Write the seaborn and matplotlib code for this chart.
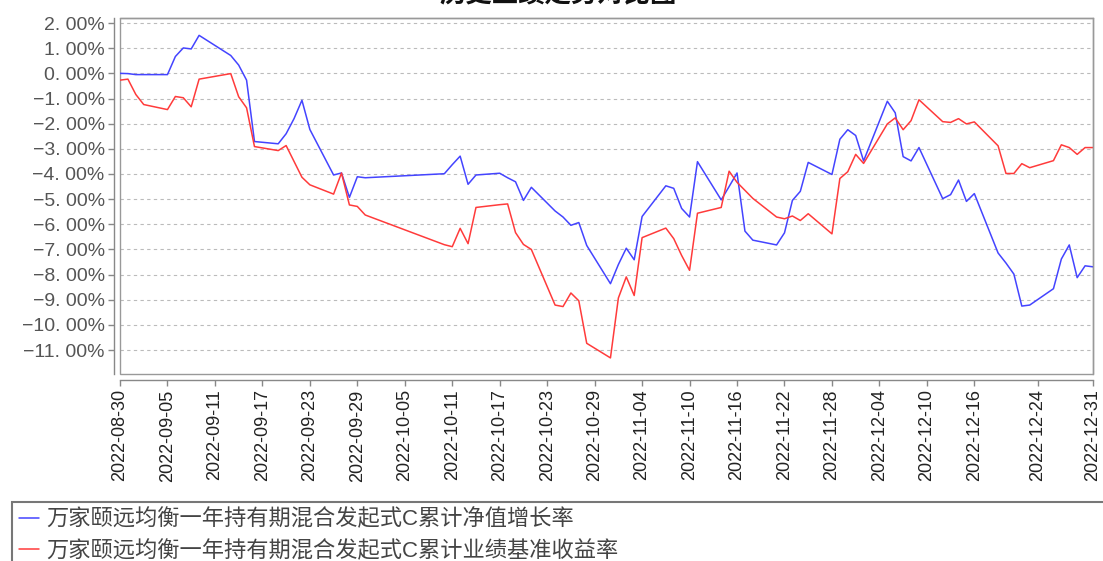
import seaborn as sns
import matplotlib.pyplot as plt
import matplotlib.dates as mdates
from matplotlib.ticker import FixedLocator, FuncFormatter
import pandas as pd

# trading days of the period (plus the period end 12-31)
dates = [
    "2022-08-30", "2022-08-31", "2022-09-01", "2022-09-02",
    "2022-09-05", "2022-09-06", "2022-09-07", "2022-09-08", "2022-09-09",
    "2022-09-13", "2022-09-14", "2022-09-15", "2022-09-16",
    "2022-09-19", "2022-09-20", "2022-09-21", "2022-09-22", "2022-09-23",
    "2022-09-26", "2022-09-27", "2022-09-28", "2022-09-29", "2022-09-30",
    "2022-10-10", "2022-10-11", "2022-10-12", "2022-10-13", "2022-10-14",
    "2022-10-17", "2022-10-18", "2022-10-19", "2022-10-20", "2022-10-21",
    "2022-10-24", "2022-10-25", "2022-10-26", "2022-10-27", "2022-10-28",
    "2022-10-31", "2022-11-01", "2022-11-02", "2022-11-03", "2022-11-04",
    "2022-11-07", "2022-11-08", "2022-11-09", "2022-11-10", "2022-11-11",
    "2022-11-14", "2022-11-15", "2022-11-16", "2022-11-17", "2022-11-18",
    "2022-11-21", "2022-11-22", "2022-11-23", "2022-11-24", "2022-11-25",
    "2022-11-28", "2022-11-29", "2022-11-30", "2022-12-01", "2022-12-02",
    "2022-12-05", "2022-12-06", "2022-12-07", "2022-12-08", "2022-12-09",
    "2022-12-12", "2022-12-13", "2022-12-14", "2022-12-15", "2022-12-16",
    "2022-12-19", "2022-12-20", "2022-12-21", "2022-12-22", "2022-12-23",
    "2022-12-26", "2022-12-27", "2022-12-28", "2022-12-29", "2022-12-30",
    "2022-12-31",
]

# 累计净值增长率 (%)
nav_growth = [
    0.00, -0.01, -0.05, -0.05,
    -0.05, 0.67, 1.01, 0.97, 1.51,
    0.71, 0.33, -0.27, -2.71,
    -2.80, -2.40, -1.80, -1.07, -2.23,
    -4.04, -3.96, -4.93, -4.11, -4.15,
    -3.99, -3.63, -3.29, -4.41, -4.04,
    -3.97, -4.15, -4.31, -5.05, -4.53,
    -5.47, -5.71, -6.04, -5.93, -6.84,
    -8.36, -7.60, -6.95, -7.41, -5.69,
    -4.47, -4.57, -5.37, -5.71, -3.51,
    -5.03, -4.50, -3.96, -6.27, -6.63,
    -6.82, -6.34, -5.05, -4.69, -3.54,
    -4.02, -2.62, -2.24, -2.47, -3.48,
    -1.11, -1.57, -3.31, -3.48, -2.95,
    -4.98, -4.82, -4.24, -5.09, -4.78,
    -7.14, -7.54, -7.98, -9.25, -9.21,
    -8.56, -7.38, -6.82, -8.12, -7.65,
    -7.69,
]

# 业绩基准收益率 (%)
bench_return = [
    -0.27, -0.23, -0.84, -1.24,
    -1.44, -0.92, -0.97, -1.33, -0.23,
    -0.01, -0.93, -1.37, -2.91,
    -3.07, -2.87, -3.50, -4.13, -4.43,
    -4.80, -3.96, -5.23, -5.29, -5.63,
    -6.81, -6.89, -6.16, -6.77, -5.33,
    -5.22, -5.19, -6.33, -6.80, -7.00,
    -9.21, -9.27, -8.73, -9.04, -10.73,
    -11.31, -8.93, -8.09, -8.83, -6.53,
    -6.15, -6.57, -7.24, -7.83, -5.56,
    -5.33, -3.89, -4.33, -4.65, -4.97,
    -5.71, -5.78, -5.67, -5.85, -5.58,
    -6.38, -4.18, -3.91, -3.22, -3.58,
    -2.01, -1.77, -2.24, -1.88, -1.05,
    -1.92, -1.95, -1.80, -2.01, -1.93,
    -2.88, -3.98, -3.98, -3.59, -3.75,
    -3.47, -2.84, -2.95, -3.22, -2.95,
    -2.95,
]

tick_dates = [
    "2022-08-30", "2022-09-05", "2022-09-11", "2022-09-17", "2022-09-23",
    "2022-09-29", "2022-10-05", "2022-10-11", "2022-10-17", "2022-10-23",
    "2022-10-29", "2022-11-04", "2022-11-10", "2022-11-16", "2022-11-22",
    "2022-11-28", "2022-12-04", "2022-12-10", "2022-12-16", "2022-12-24",
    "2022-12-31",
]
y_ticks = list(range(-11, 3))

label_nav = "万家颐远均衡一年持有期混合发起式C累计净值增长率"
label_bench = "万家颐远均衡一年持有期混合发起式C累计业绩基准收益率"
title = "历史业绩走势对比图"

sns.set_theme(style="white")
plt.rcParams['font.family'] = ['Liberation Sans', 'Noto Sans CJK SC', 'DejaVu Sans']
plt.rcParams['axes.unicode_minus'] = True

df = pd.DataFrame({"date": pd.to_datetime(dates), "nav": nav_growth, "bench": bench_return})

fig = plt.figure(figsize=(11.03, 5.61), dpi=100)
ax = fig.add_axes([120 / 1103, 1 - 374 / 561, (1093 - 120) / 1103, (374 - 18) / 561])

sns.lineplot(data=df, x="date", y="nav", ax=ax, color="#4444ff", lw=1.1, label=label_nav, legend=False)
sns.lineplot(data=df, x="date", y="bench", ax=ax, color="#ff3b3b", lw=1.1, label=label_bench, legend=False)

ax.set_xlim(pd.Timestamp("2022-08-30"), pd.Timestamp("2022-12-31"))
ax.set_ylim(-11.95, 2.2)
ax.set_xlabel("")
ax.set_ylabel("")

ax.xaxis.set_major_locator(FixedLocator(mdates.date2num(pd.to_datetime(tick_dates))))
ax.xaxis.set_major_formatter(mdates.DateFormatter("%Y-%m-%d"))
ax.set_yticks(y_ticks)
ax.yaxis.set_major_formatter(FuncFormatter(
    lambda v, p: ("\u2212" if v < 0 else "") + ("%.2f%%" % abs(v)).replace(".", ". ")))

ax.tick_params(axis="x", labelrotation=90, labelsize=13, labelcolor="#222222")
ax.tick_params(axis="y", labelsize=14, labelcolor="#555555")

ax.grid(axis="y", color="#bbbbbb", ls=(0, (3, 3)), lw=0.8)
ax.grid(axis="x", visible=False)

# inner frame plus offset axes, like the original chart
for s in ["top", "right"]:
    ax.spines[s].set_color("#999999")
    ax.spines[s].set_linewidth(1.0)
for s in ["left", "bottom"]:
    ax.spines[s].set_position(("outward", 4))
    ax.spines[s].set_color("#888888")
    ax.spines[s].set_linewidth(1.0)
ax.add_patch(plt.Rectangle((0, 0), 1, 1, transform=ax.transAxes, fill=False,
                           edgecolor="#999999", lw=1.0, clip_on=False))
ax.tick_params(axis="both", which="major", direction="out", length=4, width=1,
               color="#888888", pad=3, left=True, bottom=True)

fig.text(0.506, 1 - 7 / 561, title, ha="center", va="bottom", fontsize=19,
         fontweight="bold", color="#111111")

leg = fig.legend(loc="upper left", bbox_to_anchor=(12 / 1103, -0.2, 1.0, 1 - 502 / 561 + 0.2),
                 mode="expand", frameon=True, fancybox=False, fontsize=16,
                 handlelength=0.9, handletextpad=0.35, labelspacing=0.45,
                 borderpad=0.3, borderaxespad=0, ncol=1)
leg.get_frame().set_edgecolor("#555555")
leg.get_frame().set_linewidth(1.5)
for t in leg.get_texts():
    t.set_color("#444444")

fig.savefig("out.png", dpi=100)
